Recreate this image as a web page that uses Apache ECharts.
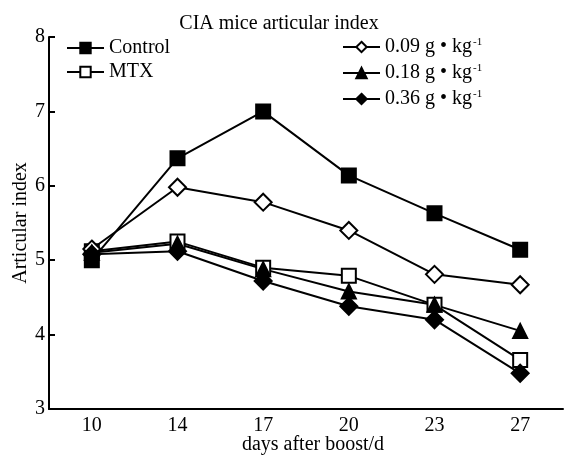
<!DOCTYPE html>
<html>
<head>
<meta charset="utf-8">
<script src="https://cdn.jsdelivr.net/npm/echarts@6/dist/echarts.min.js"></script>
<style>
  html, body { margin: 0; padding: 0; background: #fff; }
  #main { width: 565px; height: 455px; }
</style>
</head>
<body>
<div id="main"></div>
<script>
var days = ['10', '14', '17', '20', '23', '27'];
var yTicks = [3, 4, 5, 6, 7, 8];

var control = [5.0, 6.37, 7.0, 6.14, 5.63, 5.14];
var mtx = [5.12, 5.25, 4.9, 4.79, 4.4, 3.66];
var dose009 = [5.15, 5.98, 5.78, 5.4, 4.81, 4.67];
var dose018 = [5.1, 5.22, 4.88, 4.58, 4.4, 4.05];
var dose036 = [5.08, 5.12, 4.72, 4.38, 4.2, 3.48];

var seriesNames = ['Control', 'MTX', '0.09 g • kg-1', '0.18 g • kg-1', '0.36 g • kg-1'];

var serif = '"Liberation Serif", "DejaVu Serif", serif';

function makeLine(name, data, symbol, size, filled) {
    return {
        name: name,
        type: 'line',
        data: data,
        symbol: symbol,
        symbolSize: size,
        lineStyle: { color: '#000', width: 2 },
        itemStyle: {
            color: filled ? '#000' : '#fff',
            borderColor: '#000',
            borderWidth: 2
        },
        emphasis: { disabled: true },
        animation: false
    };
}

var legendText = {
    fontFamily: serif,
    fontSize: 20,
    lineHeight: 20,
    color: '#000',
    rich: {
        sup: { fontFamily: serif, fontSize: 11, lineHeight: 20, verticalAlign: 'top', padding: [0, 0, 10, 1], color: '#000' }
    }
};

// superscript for the "-1" in kg-1
function legendFmt(name) {
    if (name.indexOf('kg-1') >= 0) {
        return name.replace('kg-1', 'kg{sup|-1}');
    }
    return name;
}

var chart = echarts.init(document.getElementById('main'));

chart.setOption({
    backgroundColor: '#fff',
    title: {
        text: 'CIA mice articular index',
        left: 279,
        textAlign: 'center',
        top: 14,
        padding: 0,
        textStyle: { fontFamily: serif, fontSize: 20, fontWeight: 'normal', color: '#000' }
    },
    legend: [
        {
            data: seriesNames.slice(0, 2),
            orient: 'vertical',
            left: 66,
            top: 38,
            padding: 0,
            itemWidth: 37,
            itemHeight: 13,
            itemGap: 4,
            textStyle: legendText,
            formatter: legendFmt
        },
        {
            data: seriesNames.slice(2),
            orient: 'vertical',
            left: 342,
            top: 37,
            padding: 0,
            itemWidth: 37,
            itemHeight: 13,
            itemGap: 5,
            textStyle: legendText,
            formatter: legendFmt
        }
    ],
    grid: { left: 49, right: 2, top: 37, bottom: 46, outerBoundsMode: 'none' },
    xAxis: {
        type: 'category',
        data: days,
        boundaryGap: true,
        name: 'days after boost/d',
        nameLocation: 'middle',
        nameGap: 26,
        nameMoveOverlap: false,
        nameTextStyle: { fontFamily: serif, fontSize: 20, color: '#000', padding: [0, 0, 0, 14] },
        axisLine: { lineStyle: { color: '#000', width: 2 } },
        axisTick: { inside: true, length: 6, lineStyle: { color: '#000', width: 2 } },
        axisLabel: { fontFamily: serif, fontSize: 20, color: '#000', margin: 7 },
        splitLine: { show: false }
    },
    yAxis: {
        type: 'value',
        min: yTicks[0],
        max: yTicks[yTicks.length - 1],
        interval: 1,
        name: 'Articular index',
        nameLocation: 'middle',
        nameGap: 18,
        nameMoveOverlap: false,
        nameTextStyle: { fontFamily: serif, fontSize: 20, color: '#000' },
        axisLine: { show: true, lineStyle: { color: '#000', width: 2 } },
        axisTick: { show: true, inside: true, length: 6, lineStyle: { color: '#000', width: 2 } },
        axisLabel: { fontFamily: serif, fontSize: 20, color: '#000', margin: 4 },
        splitLine: { show: false }
    },
    series: [
        makeLine(seriesNames[0], control, 'rect', 14, true),
        makeLine(seriesNames[1], mtx, 'rect', 14, false),
        makeLine(seriesNames[2], dose009, 'diamond', 17, false),
        makeLine(seriesNames[3], dose018, 'triangle', 14, true),
        makeLine(seriesNames[4], dose036, 'diamond', 17, true)
    ]
});
</script>
</body>
</html>
